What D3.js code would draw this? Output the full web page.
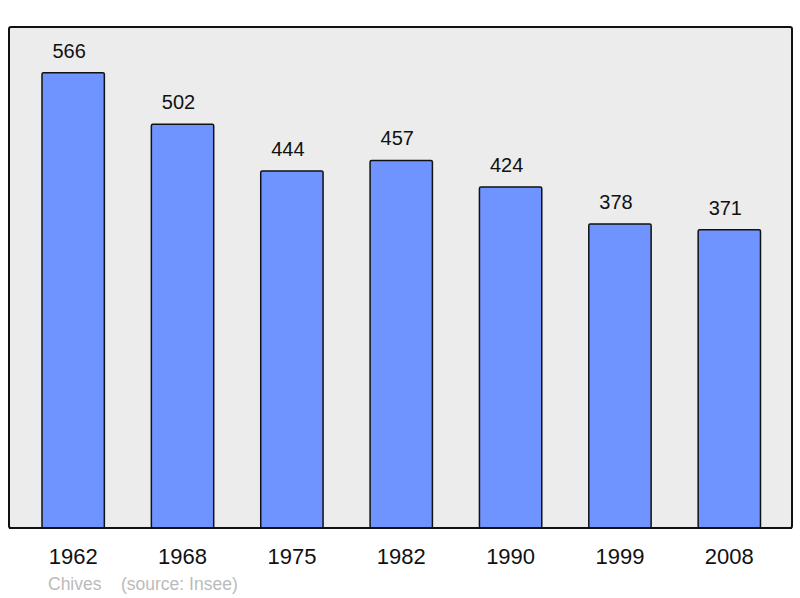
<!DOCTYPE html>
<html>
<head>
<meta charset="utf-8">
<script src="https://cdn.jsdelivr.net/npm/d3@7"></script>
<style>
  body { margin: 0; background: #fff; }
  text { font-family: "Liberation Sans", Arial, sans-serif; }
</style>
</head>
<body>
<div id="chart"></div>
<script>
var years = ["1962", "1968", "1975", "1982", "1990", "1999", "2008"];
var population = [566, 502, 444, 457, 424, 378, 371];
var commune = "Chives";
var source = "(source: Insee)";

var width = 800, height = 598;

var svg = d3.select("#chart")
    .append("svg")
    .attr("width", width).attr("height", height);

// plot frame
svg.append("rect")
    .attr("x", 9).attr("y", 27)
    .attr("width", 783).attr("height", 501)
    .attr("rx", 2)
    .attr("fill", "#ececec")
    .attr("stroke", "#111")
    .attr("stroke-width", 2);

var x = d3.scaleBand()
    .domain(years)
    .range([18.5, 784])
    .paddingInner(0.43)
    .paddingOuter(0.215);

var y = d3.scaleLinear()
    .domain([0, 623])
    .range([528, 27]);

var data = years.map(function (d, i) { return {year: d, value: population[i]}; });

svg.selectAll(".bar")
    .data(data)
    .enter()
    .append("rect")
    .attr("class", "bar")
    .attr("x", function (d) { return x(d.year); })
    .attr("y", function (d) { return y(d.value); })
    .attr("width", x.bandwidth())
    .attr("height", function (d) { return y(0) - y(d.value); })
    .attr("rx", 1.5)
    .attr("fill", "#7094ff")
    .attr("stroke", "#111")
    .attr("stroke-width", 1.5);

svg.selectAll(".val")
    .data(data)
    .enter()
    .append("text")
    .attr("class", "val")
    .attr("x", function (d) { return x(d.year) + x.bandwidth() / 2 - 4; })
    .attr("y", function (d) { return y(d.value) - 15; })
    .attr("text-anchor", "middle")
    .attr("font-size", 20)
    .attr("fill", "#111")
    .text(function (d) { return d.value; });

// redraw bottom border over bars
svg.append("line")
    .attr("x1", 9).attr("x2", 792)
    .attr("y1", 528).attr("y2", 528)
    .attr("stroke", "#111")
    .attr("stroke-width", 2);

var xAxis = d3.axisBottom(x).tickSize(0).tickPadding(0);
var gx = svg.append("g")
    .attr("transform", "translate(0, 564)")
    .call(xAxis);
gx.select(".domain").remove();
gx.selectAll("text")
    .attr("dy", 0)
    .attr("font-size", 22)
    .attr("font-family", "Liberation Sans, Arial, sans-serif")
    .attr("fill", "#111");

svg.append("text")
    .attr("x", 48).attr("y", 590)
    .attr("font-size", 17.5)
    .attr("fill", "#bbb")
    .text(commune);

svg.append("text")
    .attr("x", 121).attr("y", 590)
    .attr("font-size", 17.5)
    .attr("fill", "#bbb")
    .text(source);
</script>
</body>
</html>
